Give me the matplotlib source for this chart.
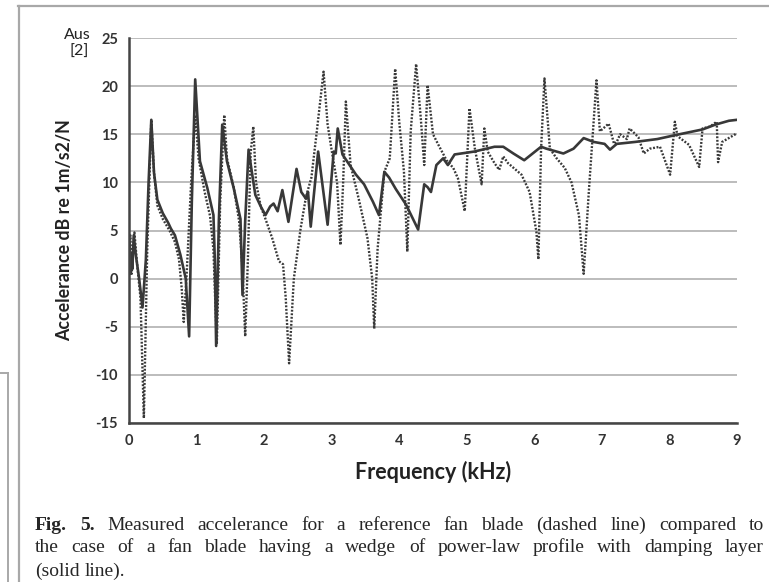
import matplotlib
matplotlib.use("Agg")
import matplotlib.pyplot as plt
from matplotlib.lines import Line2D

plt.rcParams["axes.unicode_minus"] = False

# Reference fan blade (dashed line)
ref_freq = [0.00, 0.02, 0.04, 0.06, 0.08, 0.12, 0.17, 0.22, 0.27, 0.33,
            0.37, 0.42, 0.50, 0.60, 0.68, 0.74, 0.78, 0.81, 0.85, 0.92,
            0.98, 1.03, 1.12, 1.20, 1.25, 1.28, 1.30, 1.35, 1.41, 1.45,
            1.55, 1.63, 1.68, 1.72, 1.76, 1.80, 1.84, 1.88, 1.95, 2.02,
            2.12, 2.22, 2.28, 2.32, 2.37, 2.44, 2.54, 2.62, 2.70, 2.78,
            2.88, 2.94, 3.01, 3.08, 3.13, 3.17, 3.21, 3.28, 3.40, 3.53,
            3.60, 3.63, 3.68, 3.78, 3.86, 3.94, 4.00, 4.07, 4.12, 4.17,
            4.25, 4.32, 4.37, 4.42, 4.50, 4.58, 4.70, 4.80, 4.87, 4.97,
            5.04, 5.12, 5.22, 5.26, 5.31, 5.41, 5.48, 5.54, 5.61, 5.81,
            5.93, 6.03, 6.06, 6.10, 6.15, 6.23, 6.33, 6.45, 6.55, 6.66,
            6.73, 6.81, 6.92, 6.97, 7.10, 7.18, 7.22, 7.27, 7.37, 7.41,
            7.54, 7.62, 7.71, 7.86, 8.01, 8.08, 8.12, 8.29, 8.44, 8.49,
            8.60, 8.70, 8.72, 8.78, 9.00]
ref_db = [2.5, 4.5, 0.5, 3.0, 4.8, 1.5, -2.0, -14.5, 3.0, 16.5,
          11.0, 7.6, 6.2, 5.0, 3.8, 2.0, -1.0, -4.5, 0.0, 10.0,
          17.0, 12.5, 9.0, 6.5, 3.0, -3.0, -6.8, 8.0, 17.0, 12.5,
          9.5, 6.0, 1.0, -6.0, 2.0, 13.0, 15.8, 10.0, 7.5, 6.2,
          4.2, 1.8, 1.5, -2.0, -8.8, 0.0, 5.2, 8.5, 10.5, 15.3,
          21.5, 16.0, 12.9, 10.0, 3.5, 10.0, 18.4, 11.8, 8.3, 4.2,
          0.0, -5.2, 3.1, 11.1, 12.5, 21.8, 16.3, 11.1, 2.8, 15.3,
          22.3, 16.6, 11.8, 20.1, 15.0, 13.9, 12.3, 11.5, 10.4, 7.0,
          17.7, 13.5, 9.8, 15.6, 13.2, 12.0, 11.3, 12.7, 12.0, 10.8,
          9.0, 4.9, 2.0, 13.5, 20.8, 13.5, 12.5, 11.5, 10.0, 6.6,
          0.5, 9.4, 20.6, 15.3, 16.1, 14.0, 14.2, 15.0, 14.5, 15.6,
          14.7, 13.0, 13.5, 13.7, 10.8, 16.3, 14.8, 13.9, 11.6, 15.6,
          15.8, 16.3, 12.1, 14.2, 15.1]

# Wedge blade with damping layer (solid line)
wedge_freq = [0.00, 0.01, 0.02, 0.03, 0.05, 0.07, 0.10, 0.15, 0.20, 0.25,
              0.29, 0.33, 0.37, 0.42, 0.50, 0.58, 0.62, 0.68, 0.76, 0.84,
              0.89, 0.93, 0.98, 1.05, 1.16, 1.25, 1.27, 1.29, 1.33, 1.38,
              1.45, 1.55, 1.65, 1.68, 1.72, 1.77, 1.82, 1.87, 1.95, 2.02,
              2.09, 2.14, 2.20, 2.27, 2.36, 2.48, 2.55, 2.62, 2.65, 2.69,
              2.80, 2.94, 3.03, 3.06, 3.09, 3.16, 3.36, 3.48, 3.61, 3.70,
              3.78, 3.85, 3.95, 4.10, 4.28, 4.37, 4.42, 4.47, 4.55, 4.65,
              4.72, 4.82, 5.11, 5.41, 5.54, 5.69, 5.85, 6.10, 6.18, 6.43,
              6.58, 6.73, 6.88, 7.04, 7.12, 7.22, 7.49, 7.82, 8.08, 8.49,
              8.68, 8.88, 9.00]
wedge_db = [1.5, 3.5, 0.5, 2.5, 1.0, 4.5, 2.5, 0.0, -3.0, 2.0,
            10.0, 16.5, 11.0, 8.2, 6.8, 5.8, 5.2, 4.5, 2.5, 0.0,
            -6.0, 8.0, 20.7, 12.2, 9.4, 6.6, 2.0, -7.0, 6.0, 16.0,
            12.2, 9.4, 6.2, -1.7, 6.0, 13.4, 11.0, 8.7, 7.5, 6.6,
            7.5, 7.8, 7.0, 9.2, 5.9, 11.4, 9.0, 8.3, 9.0, 5.4,
            13.2, 5.6, 13.2, 13.0, 15.6, 12.9, 10.8, 9.8, 8.0, 6.6,
            11.1, 10.5, 9.3, 7.7, 5.1, 9.8, 9.5, 9.0, 11.8, 12.5,
            11.8, 12.9, 13.2, 13.7, 13.7, 13.0, 12.3, 13.7, 13.5, 13.0,
            13.5, 14.6, 14.2, 14.0, 13.4, 14.0, 14.2, 14.5, 14.9, 15.5,
            16.0, 16.4, 16.5]

y_ticks = [-15, -10, -5, 0, 5, 10, 15, 20, 25]
x_ticks = [0, 1, 2, 3, 4, 5, 6, 7, 8, 9]

caption = [
    "Fig. 5. Measured accelerance for a reference fan blade (dashed line) compared to",
    "the case of a fan blade having a wedge of power-law profile with damping layer",
    "(solid line).",
]

W, H = 769, 582
fig = plt.figure(figsize=(W / 100, H / 100), dpi=100)
ax = fig.add_axes([129 / W, 1 - 423 / H, (737 - 129) / W, (423 - 38) / H])

line_col = "#383838"
ax.plot(ref_freq, ref_db, color=line_col, lw=1.7, ls=(0, (0.8, 0.7)))
ax.plot(wedge_freq, wedge_db, color=line_col, lw=1.9)

ax.set_xlim(0, 9)
ax.set_ylim(-15, 25)
ax.set_xticks(x_ticks)
ax.set_yticks(y_ticks)
ax.yaxis.grid(True, color="#bcbcbc", lw=1.4)
ax.set_axisbelow(True)
for s in ["top", "right"]:
    ax.spines[s].set_visible(False)
for s in ["left", "bottom"]:
    ax.spines[s].set_color("#444444")
    ax.spines[s].set_linewidth(1.8)
ax.tick_params(length=0, labelsize=10.5, colors="#333333")
ax.tick_params(axis="y", pad=8)
ax.tick_params(axis="x", pad=8)
for lab in ax.get_xticklabels() + ax.get_yticklabels():
    lab.set_fontfamily("Lato")
    lab.set_fontweight("bold")

ax.set_xlabel("Frequency (kHz)", family="Lato", weight="bold", fontsize=15.5,
              color="#222222", labelpad=9)
ax.set_ylabel("Accelerance dB re 1m/s2/N", family="Lato", weight="bold",
              fontsize=12.8, color="#222222", labelpad=16)

fig.text(91 / W, 1 - 35 / H, "Aus", ha="right", va="center", fontsize=11.5,
         family="Lato", color="#222222")
fig.text(89 / W, 1 - 52 / H, "[2]", ha="right", va="center", fontsize=11.5,
         family="Lato", color="#222222")

# gray frame around the figure and the neighbouring box on the left
frame = "#a8a8a8"
fig.add_artist(Line2D([18 / W, 1], [1 - 6 / H, 1 - 6 / H], color=frame, lw=1.6))
fig.add_artist(Line2D([19 / W, 19 / W], [0, 1 - 6 / H], color=frame, lw=1.6))
fig.add_artist(Line2D([0, 8 / W], [1 - 373 / H, 1 - 373 / H], color=frame, lw=1.4))
fig.add_artist(Line2D([8 / W, 8 / W], [0, 1 - 373 / H], color=frame, lw=1.4))

# caption, justified like the journal text
renderer = fig.canvas.get_renderer()
x_left, x_right = 35, 764
rows_y = [525, 547, 571]
for i, (row, yy) in enumerate(zip(caption, rows_y)):
    words = row.split(" ")
    items = []
    for j, w in enumerate(words):
        bold = i == 0 and j < 2
        t = fig.text(0, 1 - yy / H, w, fontsize=14, family="Liberation Serif",
                     weight="bold" if bold else "normal", color="#262626",
                     va="center", ha="left")
        items.append(t)
    widths = [t.get_window_extent(renderer).width for t in items]
    if i < len(caption) - 1:
        gap = (x_right - x_left - sum(widths)) / (len(items) - 1)
    else:
        gap = 5
    x = x_left
    for t, wd in zip(items, widths):
        t.set_x(x / W)
        x += wd + gap

fig.savefig("out.png", dpi=100)
